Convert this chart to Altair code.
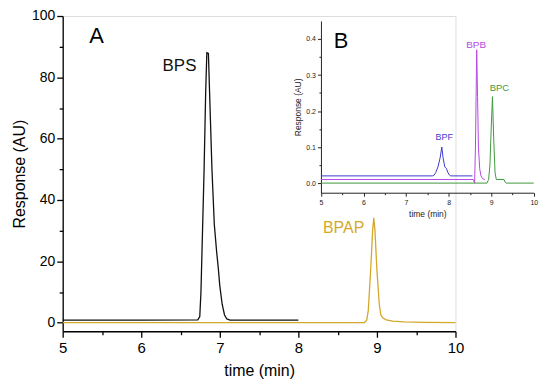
import altair as alt
import pandas as pd

# ---- Panel A data (main chromatogram) ----
bps_time = [5.0, 6.0, 6.72, 6.745, 6.76, 6.78, 6.80, 6.82, 6.835, 6.855, 6.87, 6.90, 6.93,
            6.96, 6.98, 7.00, 7.03, 7.06, 7.09, 7.13, 7.5, 8.0]
bps_resp = [0.8, 0.8, 0.9, 2.0, 10, 30, 50, 75, 88, 87.8, 75, 50, 32,
            23, 18, 12, 6, 2.5, 1.2, 0.8, 0.8, 0.8]

bpap_time = [5.0, 8.84, 8.87, 8.89, 8.92, 8.945, 8.96, 8.975, 9.00, 9.03, 9.05, 9.08,
             9.12, 9.2, 9.35, 9.6, 10.0]
bpap_resp = [0.0, 0.0, 0.8, 4, 17, 30, 34.2, 30, 17, 6, 2.5, 1.4,
             0.9, 0.5, 0.25, 0.1, 0.0]

# ---- Panel B data (inset) ----
bpf_time = [5.0, 7.62, 7.66, 7.70, 7.75, 7.80, 7.84, 7.87, 7.91, 7.95, 7.98, 8.02, 8.05, 8.56]
bpf_resp = [0.02, 0.02, 0.022, 0.03, 0.045, 0.07, 0.1, 0.07, 0.045, 0.04, 0.03, 0.022, 0.02, 0.02]

bpb_time = [5.0, 8.58, 8.61, 8.63, 8.66, 8.68, 8.70, 8.73, 8.76, 8.80, 8.85]
bpb_resp = [0.01, 0.01, 0.0, 0.1, 0.37, 0.24, 0.1, 0.04, 0.02, 0.012, 0.01]

bpc_time = [5.0, 8.90, 8.94, 8.97, 9.00, 9.03, 9.06, 9.09, 9.12, 9.30, 9.33, 9.36, 10.0]
bpc_resp = [0.0, 0.0, 0.01, 0.05, 0.15, 0.24, 0.12, 0.03, 0.01, 0.01, 0.002, 0.0, 0.0]

# ---- Labels ----
main_labels = ["A", "BPS", "BPAP"]
main_label_x = [5.43, 6.487, 8.576]
main_label_y = [93.5, 83.7, 30.9]

inset_labels = ["B", "BPF", "BPB", "BPC"]
inset_label_x = [5.474, 7.897, 8.647, 9.194]
inset_label_y = [0.394, 0.127, 0.382, 0.264]

# ---- Ticks ----
main_xmajor = [5, 6, 7, 8, 9, 10]
main_xminor = [5.5, 6.5, 7.5, 8.5, 9.5]
main_ymajor = [0, 20, 40, 60, 80, 100]
main_yminor = [10, 30, 50, 70, 90]
inset_xmajor = [5, 6, 7, 8, 9, 10]
inset_xminor = [5.5, 6.5, 7.5, 8.5, 9.5]
inset_ymajor = [0.0, 0.1, 0.2, 0.3, 0.4]
inset_yminor = [0.05, 0.15, 0.25, 0.35]

FONT = "Liberation Sans"
W, H = 395, 317

MAIN_COLORS = {"BPS": "#111111", "BPAP": "#d4a82a", "A": "#000000"}
INSET_COLORS = {"BPF": "#3b3bd0", "BPB": "#b548e3", "BPC": "#3f983f", "B": "#000000"}
MAIN_SIZES = {"A": 22, "BPS": 17, "BPAP": 16}
INSET_SIZES = {"B": 22, "BPF": 9, "BPB": 10, "BPC": 9.5}

main_df = pd.concat([
    pd.DataFrame({"t": bps_time, "r": bps_resp, "s": "BPS"}),
    pd.DataFrame({"t": bpap_time, "r": bpap_resp, "s": "BPAP"}),
])
inset_df = pd.concat([
    pd.DataFrame({"t": bpf_time, "r": bpf_resp, "s": "BPF"}),
    pd.DataFrame({"t": bpb_time, "r": bpb_resp, "s": "BPB"}),
    pd.DataFrame({"t": bpc_time, "r": bpc_resp, "s": "BPC"}),
])

main_xscale = alt.Scale(domain=[5, 10], nice=False, zero=False)
main_yscale = alt.Scale(domain=[-2.8, 100], nice=False, zero=False)
inset_xscale = alt.Scale(domain=[5, 10], nice=False, zero=False, range=[259.7, 473.7])
inset_yscale = alt.Scale(domain=[-0.0267, 0.45], nice=False, zero=False, range=[177.7, 5])


def axis(title, values, orient, size, lab_fs, tit_fs, lab_pad, tit_pad, color, width,
         offset=0, fmt=None, minor=False):
    kw = dict(values=values, orient=orient, tickSize=size, grid=False,
              domainColor=color, tickColor=color, labelColor=color, titleColor=color,
              domainWidth=width, tickWidth=width, labelOverlap=False, labelFlush=False,
              labelFont=FONT, titleFont=FONT, titleFontWeight="normal",
              labelFontSize=lab_fs, titleFontSize=tit_fs,
              labelPadding=lab_pad, titlePadding=tit_pad, offset=offset)
    if fmt:
        kw["format"] = fmt
    if minor:
        kw.update(labels=False, domain=False, title=None)
    else:
        kw["title"] = title
    return alt.Axis(**kw)


main_x_major = axis("time (min)", main_xmajor, "bottom", 6, 15, 16, 3, 8, "black", 1.3)
main_x_minor = axis(None, main_xminor, "bottom", 3.5, 15, 16, 3, 8, "black", 1.3, minor=True)
main_y_major = axis("Response (AU)", main_ymajor, "left", 6, 14, 16, 2, 4, "black", 1.3)
main_y_minor = axis(None, main_yminor, "left", 3.5, 14, 16, 2, 4, "black", 1.3, minor=True)

inset_x_major = axis("time (min)", inset_xmajor, "bottom", 3.5, 7, 8.5, 2, 4, "#222", 1, offset=-139.3)
inset_x_minor = axis(None, inset_xminor, "bottom", 2, 7, 8.5, 2, 4, "#222", 1, offset=-139.3, minor=True)
inset_y_major = axis("Response (AU)", inset_ymajor, "left", 3.5, 7, 8.5, 2, 3, "#222", 1,
                     offset=-259.7, fmt=".1f")
inset_y_minor = axis(None, inset_yminor, "left", 2, 7, 8.5, 2, 3, "#222", 1,
                     offset=-259.7, minor=True)


def lines(df, colors, xs, ys, xa, ya, sw):
    return alt.Chart(df).mark_line(strokeWidth=sw).encode(
        x=alt.X("t:Q", scale=xs, axis=xa),
        y=alt.Y("r:Q", scale=ys, axis=ya),
        color=alt.Color("s:N", scale=alt.Scale(domain=list(colors), range=list(colors.values())),
                        legend=None),
        detail="s:N",
    )


def labels(names, xs_, ys_, colors, sizes, xs, ys, minor_x, minor_y):
    out = []
    for i, (n, tx, ry) in enumerate(zip(names, xs_, ys_)):
        d = pd.DataFrame({"t": [tx], "r": [ry], "s": [n]})
        out.append(
            alt.Chart(d).mark_text(font=FONT, align="center", baseline="middle",
                                   fontSize=sizes[n], color=colors[n]).encode(
                x=alt.X("t:Q", scale=xs, axis=minor_x if i == 0 else None),
                y=alt.Y("r:Q", scale=ys, axis=minor_y if i == 0 else None),
                text="s:N",
            )
        )
    return out


main = alt.layer(
    lines(main_df, {"BPS": MAIN_COLORS["BPS"], "BPAP": MAIN_COLORS["BPAP"]},
          main_xscale, main_yscale, main_x_major, main_y_major, 1.3),
    *labels(main_labels, main_label_x, main_label_y, MAIN_COLORS, MAIN_SIZES,
            main_xscale, main_yscale, main_x_minor, main_y_minor),
).resolve_axis(x="independent", y="independent")

inset = alt.layer(
    lines(inset_df, {k: INSET_COLORS[k] for k in ["BPF", "BPB", "BPC"]},
          inset_xscale, inset_yscale, inset_x_major, inset_y_major, 1),
    *labels(inset_labels, inset_label_x, inset_label_y, INSET_COLORS, INSET_SIZES,
            inset_xscale, inset_yscale, inset_x_minor, inset_y_minor),
).resolve_axis(x="independent", y="independent")

chart = alt.layer(main, inset).resolve_scale(
    x="independent", y="independent", color="independent"
).properties(
    width=W, height=H,
    autosize=alt.AutoSizeParams(type="none"),
    padding={"left": 55, "top": 7, "right": 87, "bottom": 51},
).configure_view(strokeWidth=0).configure(background="white")

chart.save("out.html", embed_options={"renderer": "svg", "actions": False})
